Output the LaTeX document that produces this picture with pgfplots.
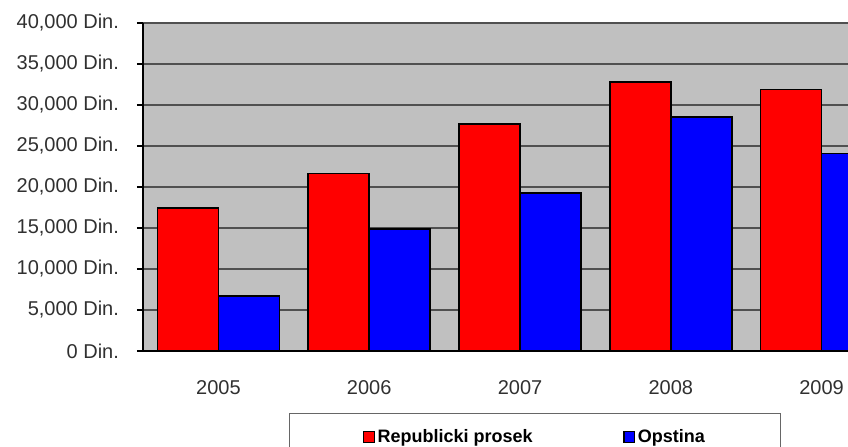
\documentclass[border=0pt]{standalone}
\usepackage{fontspec}
\setmainfont{Liberation Sans}
\usepackage{pgfplots}
\usepackage{pgfplotstable}
\pgfplotsset{compat=1.18}
\definecolor{bg}{HTML}{C0C0C0}
\definecolor{lbl}{HTML}{303030}
\definecolor{gridc}{HTML}{505050}
\pgfplotstableread{
x rep ops
0 17440 6700
1 21650 14880
2 27680 19300
3 32800 28570
4 31900 24100
}\data
\begin{document}
\begin{tikzpicture}
\path[use as bounding box, clip] (0pt,0pt) rectangle (636pt,334.5pt);
\begin{axis}[
  at={(107.25pt,71.25pt)}, anchor=south west,
  scale only axis, width=565.5pt, height=246pt,
  xmin=-0.5, xmax=4.5, ymin=0, ymax=40000,
  scaled y ticks=false,
  ybar=0pt, bar width=45.75pt,
  axis lines=left, axis line style={-, black, line width=0.8pt},
  axis background/.style={fill=bg},
  ymajorgrids, grid style={gridc, line width=0.9pt},
  tick align=outside, major tick length=4.5pt, minor tick length=5pt,
  tick style={black, line width=0.8pt},
  ytick={0,5000,...,40000},
  yticklabels={{0 Din.},{5,000 Din.},{10,000 Din.},{15,000 Din.},{20,000 Din.},{25,000 Din.},{30,000 Din.},{35,000 Din.},{40,000 Din.}},
  xtick={0,1,2,3,4}, xticklabels={2005,2006,2007,2008,2009},
  xtick style={draw=none},
  minor xtick={-0.5,0.5,1.5,2.5,3.5,4.5},
  ticklabel style={font=\fontsize{15}{18}\selectfont, text=lbl},
  yticklabel style={xshift=-10pt},
  xticklabel style={yshift=-14pt},
  legend columns=2,
  legend style={at={(rel axis cs:0.1936,-0.189)}, anchor=north west,
    draw=black!60, line width=0.8pt, fill=white,
    font=\fontsize{13.5}{16}\bfseries\selectfont,
    inner xsep=55pt, inner ysep=10pt,
    /tikz/every even column/.append style={column sep=66pt}},
  legend image code/.code={\draw[#1, line width=1pt] (0pt,-4pt) rectangle (8pt,4pt);},
]
\addplot[fill=red, draw=black, line width=1.2pt] table[x=x, y=rep] {\data};
\addplot[fill=blue, draw=black, line width=1.2pt] table[x=x, y=ops] {\data};
\legend{Republicki prosek, Opstina}
\end{axis}
\end{tikzpicture}
\end{document}
